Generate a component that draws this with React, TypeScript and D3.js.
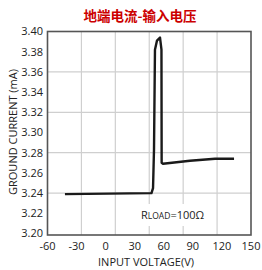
import React from 'react';
import * as d3 from 'd3';

const title = '地端电流-输入电压';
const xLabel = 'INPUT VOLTAGE(V)';
const yLabel = 'GROUND CURRENT (mA)';

const xTicks = [-60, -30, 0, 30, 60, 90, 120, 150];
const yTicks = [3.2, 3.22, 3.24, 3.26, 3.28, 3.3, 3.32, 3.34, 3.36, 3.38, 3.4];
const yGrid = [3.24, 3.28, 3.32, 3.36];
const xGridSteps = [1, 2, 3, 4, 5];

const voltage = [-42, 47.3, 48.9, 49.9, 50.9, 53, 56.1, 57.6, 57.8, 59.2, 87, 112.9, 132.5];
const current = [3.239, 3.24, 3.245, 3.283, 3.382, 3.391, 3.394, 3.382, 3.27, 3.269, 3.272, 3.274, 3.274];

const W = 262;
const H = 270;
const m = { left: 47.5, right: 251, top: 31.5, bottom: 233.5 };
const font = '"Open Sans", "Noto Sans", sans-serif';

const App = () => {
  const xScale = d3.scaleLinear().domain([-60, 150]).range([m.left, m.right]);
  const yScale = d3.scaleLinear().domain([3.2, 3.4]).range([m.bottom, m.top]);
  // gridlines in the source don't line up with the x labels: 6 equal cells
  const gridScale = d3.scaleLinear().domain([0, 6]).range([m.left, m.right]);

  const points = voltage.map((v, i) => [v, current[i]] as [number, number]);
  const path = d3.line<[number, number]>()
    .x((d) => xScale(d[0]))
    .y((d) => yScale(d[1]))(points) as string;

  return (
    <svg width={W} height={H} style={{ position: 'absolute', left: 0, top: 0, background: '#fff' }} fontFamily={font}>
      <text x={140} y={21} textAnchor="middle" fontSize={13.5} fontWeight="bold" fill="#cc0000"
        fontFamily='"Noto Sans CJK SC", sans-serif'>{title}</text>

      {xGridSteps.map((s) => (
        <line key={s} x1={gridScale(s)} x2={gridScale(s)} y1={m.top} y2={m.bottom + 1.5} stroke="#cfcfcf" strokeWidth={1.2} />
      ))}
      {yGrid.map((v) => (
        <line key={v} x1={m.left} x2={m.right} y1={yScale(v)} y2={yScale(v)} stroke="#cfcfcf" strokeWidth={1.2} />
      ))}

      <rect x={137} y={204} width={76} height={22} fill="#fff" />
      <text x={141} y={219} fontSize={11} fill="#222">
        R<tspan fontSize={8.5}>LOAD</tspan>=100Ω
      </text>

      <path d={path} fill="none" stroke="#1a1a1a" strokeWidth={2.4} strokeLinejoin="round" />

      <rect x={m.left} y={m.top} width={m.right - m.left} height={m.bottom + 1.5 - m.top}
        fill="none" stroke="#555" strokeWidth={1.6} />

      {yTicks.map((v) => (
        <text key={v} x={43} y={yScale(v)} dy="0.35em" textAnchor="end" fontSize={11} fill="#222">
          {v.toFixed(2)}
        </text>
      ))}
      {xTicks.map((v) => (
        <text key={v} x={xScale(v)} y={250} textAnchor="middle" fontSize={11} fill="#222">
          {v}
        </text>
      ))}

      <text x={146} y={266} textAnchor="middle" fontSize={11} fill="#222">{xLabel}</text>
      <text transform={`translate(17, 132) rotate(-90)`} textAnchor="middle" fontSize={11} fill="#222">{yLabel}</text>
    </svg>
  );
};

export default App;
